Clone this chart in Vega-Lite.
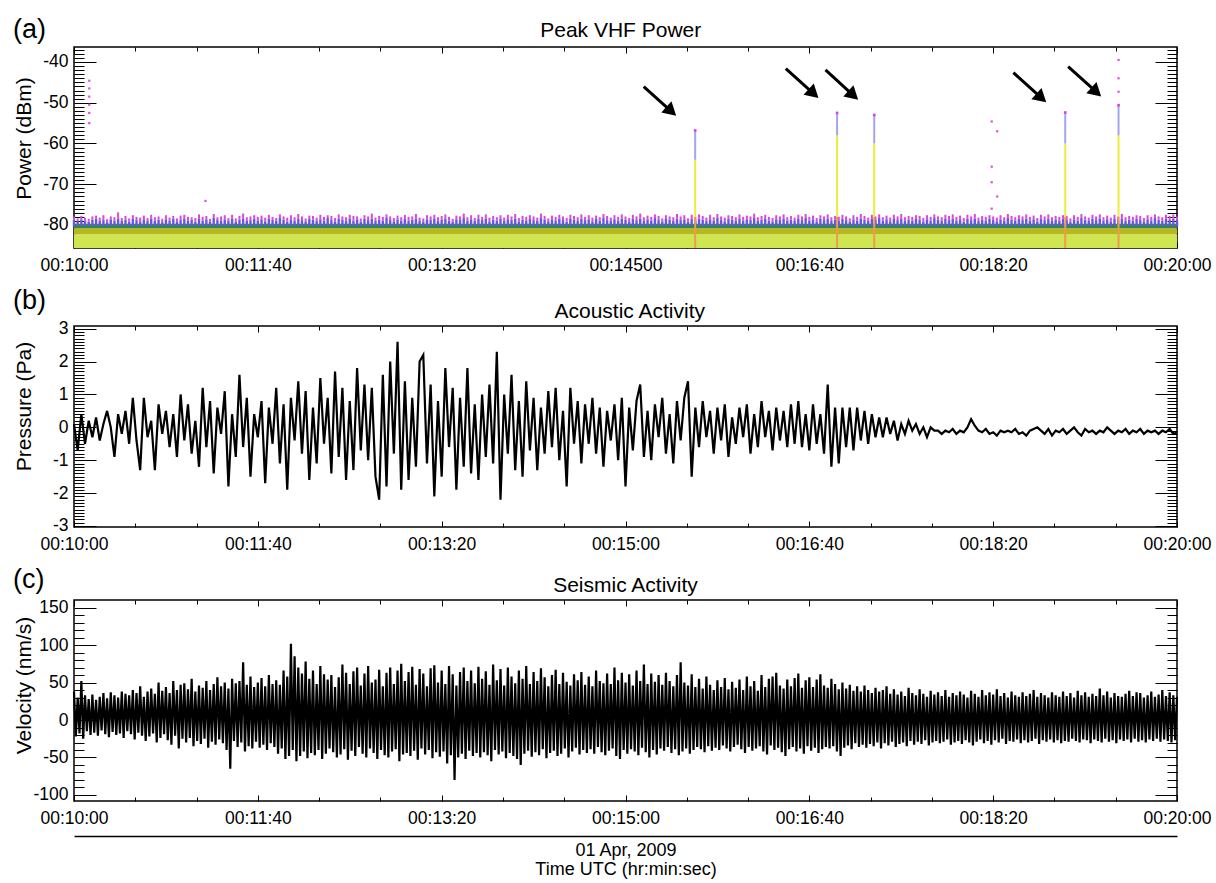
{
"$schema": "https://vega.github.io/schema/vega-lite/v6.json",
"background": "white",
"padding": {"left": 12, "top": 15, "right": 2, "bottom": 2},
"spacing": 9,
"config": {
 "view": {"stroke": "black", "strokeWidth": 1.5},
 "font": "Liberation Sans",
 "text": {"font": "Liberation Sans", "color": "black"},
 "axis": {"labelFont": "Liberation Sans", "labelFontSize": 17.5, "labelColor": "black", "titleFont": "Liberation Sans", "titleFontSize": 21, "titleFontWeight": "normal", "titleColor": "black", "tickColor": "black", "tickWidth": 1, "domain": false, "grid": false, "labelFlush": false, "labelOverlap": false, "labelBound": false}
},
"datasets": {
 "bands": [{"level":"floor","lo":-85.65,"hi":-82.3},{"level":"mid","lo":-82.3,"hi":-80.8},{"level":"green","lo":-80.8,"hi":-79.7}],
 "spikes": [{"t":337.9,"top":-56.8,"mid":-64},{"t":415.1,"top":-52.5,"mid":-58},{"t":435.3,"top":-53,"mid":-60},{"t":539.2,"top":-52.4,"mid":-60},{"t":568.2,"top":-50.6,"mid":-58}],
 "dots": [{"t":8.3,"v":-44.6},{"t":8.3,"v":-46.5},{"t":8.3,"v":-48.5},{"t":8.3,"v":-50.5},{"t":8.3,"v":-52.5},{"t":8.3,"v":-55},{"t":71.5,"v":-74.1},{"t":568.2,"v":-39.5},{"t":568.2,"v":-44},{"t":568.2,"v":-47.3},{"t":499.2,"v":-54.6},{"t":502.2,"v":-57},{"t":499.2,"v":-65.7},{"t":499.2,"v":-69.5},{"t":502.2,"v":-73},{"t":499.2,"v":-76}],
 "arrows": [{"t":309.9,"v":-46.06,"t2":324.9,"v2":-52.1},{"t":387.2,"v":-41.64,"t2":402.3,"v2":-47.75},{"t":408.8,"v":-41.96,"t2":423.9,"v2":-48.17},{"t":511.0,"v":-42.63,"t2":526.2,"v2":-48.83},{"t":540.8,"v":-41.15,"t2":556.1,"v2":-47.36}],
 "vhf": [
{"t":0,"b":-78.8,"m":-78.0},{"t":2,"b":-79.1,"m":-78.4},{"t":4,"b":-78.6,"m":-77.8},{"t":6,"b":-78.9,"m":-78.3},{"t":8,"b":-79.2,"m":-78.5},{"t":10,"b":-78.7,"m":-77.9},{"t":12,"b":-78.5,"m":-77.7},{"t":14,"b":-79.0,"m":-78.2},{"t":16,"b":-78.8,"m":-77.6},{"t":18,"b":-79.3,"m":-78.6},
{"t":20,"b":-78.6,"m":-77.9},{"t":22,"b":-78.9,"m":-78.1},{"t":24,"b":-78.4,"m":-76.9},{"t":26,"b":-79.0,"m":-78.3},{"t":28,"b":-78.7,"m":-77.8},{"t":30,"b":-79.2,"m":-78.4},{"t":32,"b":-78.5,"m":-77.6},{"t":34,"b":-78.8,"m":-78.0},{"t":36,"b":-79.1,"m":-78.2},{"t":38,"b":-78.6,"m":-77.7},
{"t":40,"b":-78.9,"m":-78.3},{"t":42,"b":-78.4,"m":-77.5},{"t":44,"b":-79.0,"m":-78.1},{"t":46,"b":-78.7,"m":-77.9},{"t":48,"b":-79.3,"m":-78.5},{"t":50,"b":-78.6,"m":-77.6},{"t":52,"b":-78.9,"m":-78.2},{"t":54,"b":-78.5,"m":-77.8},{"t":56,"b":-79.1,"m":-78.4},{"t":58,"b":-78.8,"m":-77.7},
{"t":60,"b":-78.4,"m":-77.5},{"t":62,"b":-79.0,"m":-78.0},{"t":64,"b":-78.7,"m":-78.1},{"t":66,"b":-79.2,"m":-78.3},{"t":68,"b":-78.5,"m":-77.4},{"t":70,"b":-78.9,"m":-78.0},{"t":72,"b":-78.6,"m":-77.8},{"t":74,"b":-79.1,"m":-78.5},{"t":76,"b":-78.3,"m":-77.3},{"t":78,"b":-78.8,"m":-78.1},
{"t":80,"b":-79.0,"m":-77.9},{"t":82,"b":-78.6,"m":-77.6},{"t":84,"b":-78.9,"m":-78.3},{"t":86,"b":-78.4,"m":-77.5},{"t":88,"b":-79.2,"m":-78.4},{"t":90,"b":-78.7,"m":-77.8},{"t":92,"b":-78.5,"m":-77.2},{"t":94,"b":-79.0,"m":-78.1},{"t":96,"b":-78.8,"m":-77.9},{"t":98,"b":-78.4,"m":-77.6},
{"t":100,"b":-78.9,"m":-78.0},{"t":102,"b":-78.6,"m":-77.7},{"t":104,"b":-79.1,"m":-78.2},{"t":106,"b":-78.5,"m":-77.5},{"t":108,"b":-78.8,"m":-78.0},{"t":110,"b":-79.0,"m":-78.3},{"t":112,"b":-78.3,"m":-77.4},{"t":114,"b":-78.7,"m":-77.9},{"t":116,"b":-79.2,"m":-78.2},{"t":118,"b":-78.6,"m":-77.6},
{"t":120,"b":-78.9,"m":-78.1},{"t":122,"b":-78.4,"m":-77.3},{"t":124,"b":-78.8,"m":-77.9},{"t":126,"b":-79.1,"m":-78.4},{"t":128,"b":-78.5,"m":-77.7},{"t":130,"b":-78.7,"m":-77.8},{"t":132,"b":-79.0,"m":-78.2},{"t":134,"b":-78.6,"m":-77.5},{"t":136,"b":-78.9,"m":-78.0},{"t":138,"b":-78.3,"m":-77.6},
{"t":140,"b":-78.8,"m":-77.8},{"t":142,"b":-79.1,"m":-78.3},{"t":144,"b":-78.5,"m":-77.4},{"t":146,"b":-78.7,"m":-77.9},{"t":148,"b":-79.0,"m":-78.1},{"t":150,"b":-78.4,"m":-77.5},{"t":152,"b":-78.9,"m":-77.8},{"t":154,"b":-78.6,"m":-77.9},{"t":156,"b":-79.2,"m":-78.4},{"t":158,"b":-78.5,"m":-77.6},
{"t":160,"b":-78.8,"m":-77.9},{"t":162,"b":-78.4,"m":-77.2},{"t":164,"b":-79.0,"m":-78.2},{"t":166,"b":-78.7,"m":-77.8},{"t":168,"b":-78.9,"m":-78.0},{"t":170,"b":-78.3,"m":-77.4},{"t":172,"b":-78.8,"m":-77.9},{"t":174,"b":-79.1,"m":-78.3},{"t":176,"b":-78.6,"m":-77.7},{"t":178,"b":-78.9,"m":-78.1},
{"t":180,"b":-78.5,"m":-77.5},{"t":182,"b":-79.0,"m":-78.0},{"t":184,"b":-78.7,"m":-77.9},{"t":186,"b":-78.4,"m":-77.3},{"t":188,"b":-78.9,"m":-78.2},{"t":190,"b":-79.1,"m":-78.4},{"t":192,"b":-78.6,"m":-77.6},{"t":194,"b":-78.8,"m":-77.9},{"t":196,"b":-78.4,"m":-77.5},{"t":198,"b":-79.0,"m":-78.1},
{"t":200,"b":-78.7,"m":-77.8},{"t":202,"b":-78.5,"m":-77.4},{"t":204,"b":-78.9,"m":-78.0},{"t":206,"b":-79.2,"m":-78.5},{"t":208,"b":-78.6,"m":-77.7},{"t":210,"b":-78.8,"m":-77.9},{"t":212,"b":-78.3,"m":-77.2},{"t":214,"b":-78.9,"m":-78.1},{"t":216,"b":-78.6,"m":-77.6},{"t":218,"b":-79.0,"m":-78.3},
{"t":220,"b":-78.5,"m":-77.5},{"t":222,"b":-78.8,"m":-78.0},{"t":224,"b":-78.4,"m":-77.4},{"t":226,"b":-79.1,"m":-78.2},{"t":228,"b":-78.7,"m":-77.8},{"t":230,"b":-78.9,"m":-78.1},{"t":232,"b":-78.5,"m":-77.6},{"t":234,"b":-79.0,"m":-78.2},{"t":236,"b":-78.6,"m":-77.5},{"t":238,"b":-78.8,"m":-77.9},
{"t":240,"b":-78.4,"m":-77.3},{"t":242,"b":-79.1,"m":-78.3},{"t":244,"b":-78.7,"m":-77.8},{"t":246,"b":-78.9,"m":-78.0},{"t":248,"b":-78.5,"m":-77.6},{"t":250,"b":-78.8,"m":-77.9},{"t":252,"b":-79.0,"m":-78.2},{"t":254,"b":-78.3,"m":-77.2},{"t":256,"b":-78.7,"m":-77.8},{"t":258,"b":-79.1,"m":-78.4},
{"t":260,"b":-78.6,"m":-77.7},{"t":262,"b":-78.9,"m":-78.0},{"t":264,"b":-78.4,"m":-77.5},{"t":266,"b":-78.8,"m":-77.9},{"t":268,"b":-79.2,"m":-78.3},{"t":270,"b":-78.5,"m":-77.5},{"t":272,"b":-78.7,"m":-77.8},{"t":274,"b":-79.0,"m":-78.1},{"t":276,"b":-78.4,"m":-77.4},{"t":278,"b":-78.8,"m":-78.0},
{"t":280,"b":-78.6,"m":-77.6},{"t":282,"b":-79.1,"m":-78.2},{"t":284,"b":-78.5,"m":-77.7},{"t":286,"b":-78.9,"m":-78.1},{"t":288,"b":-78.3,"m":-77.3},{"t":290,"b":-78.8,"m":-77.8},{"t":292,"b":-79.0,"m":-78.2},{"t":294,"b":-78.6,"m":-77.6},{"t":296,"b":-78.9,"m":-78.0},{"t":298,"b":-78.4,"m":-77.4},
{"t":300,"b":-78.7,"m":-77.9},{"t":302,"b":-79.1,"m":-78.3},{"t":304,"b":-78.5,"m":-77.5},{"t":306,"b":-78.8,"m":-77.9},{"t":308,"b":-78.4,"m":-77.2},{"t":310,"b":-79.0,"m":-78.1},{"t":312,"b":-78.6,"m":-77.7},{"t":314,"b":-78.9,"m":-78.0},{"t":316,"b":-78.3,"m":-77.4},{"t":318,"b":-78.8,"m":-77.8},
{"t":320,"b":-79.1,"m":-78.4},{"t":322,"b":-78.5,"m":-77.6},{"t":324,"b":-78.7,"m":-77.9},{"t":326,"b":-79.0,"m":-78.1},{"t":328,"b":-78.4,"m":-77.3},{"t":330,"b":-78.8,"m":-77.9},{"t":332,"b":-78.6,"m":-77.6},{"t":334,"b":-79.2,"m":-78.4},{"t":336,"b":-78.5,"m":-77.5},{"t":338,"b":-78.9,"m":-78.0},
{"t":340,"b":-78.4,"m":-77.4},{"t":342,"b":-78.7,"m":-77.8},{"t":344,"b":-79.0,"m":-78.2},{"t":346,"b":-78.6,"m":-77.5},{"t":348,"b":-78.9,"m":-78.1},{"t":350,"b":-78.3,"m":-77.3},{"t":352,"b":-78.8,"m":-77.9},{"t":354,"b":-79.1,"m":-78.2},{"t":356,"b":-78.5,"m":-77.6},{"t":358,"b":-78.7,"m":-77.8},
{"t":360,"b":-79.0,"m":-78.1},{"t":362,"b":-78.4,"m":-77.4},{"t":364,"b":-78.9,"m":-78.0},{"t":366,"b":-78.6,"m":-77.7},{"t":368,"b":-78.8,"m":-77.9},{"t":370,"b":-78.3,"m":-77.2},{"t":372,"b":-79.0,"m":-78.1},{"t":374,"b":-78.7,"m":-77.8},{"t":376,"b":-78.5,"m":-77.5},{"t":378,"b":-78.9,"m":-78.0},
{"t":380,"b":-79.1,"m":-78.3},{"t":382,"b":-78.6,"m":-77.6},{"t":384,"b":-78.8,"m":-77.9},{"t":386,"b":-78.4,"m":-77.4},{"t":388,"b":-78.9,"m":-78.1},{"t":390,"b":-78.7,"m":-77.8},{"t":392,"b":-79.0,"m":-78.2},{"t":394,"b":-78.5,"m":-77.5},{"t":396,"b":-78.8,"m":-77.9},{"t":398,"b":-78.3,"m":-77.3},
{"t":400,"b":-78.9,"m":-78.0},{"t":402,"b":-78.6,"m":-77.7},{"t":404,"b":-79.1,"m":-78.3},{"t":406,"b":-78.5,"m":-77.6},{"t":408,"b":-78.8,"m":-77.9},{"t":410,"b":-78.4,"m":-77.4},{"t":412,"b":-79.0,"m":-78.1},{"t":414,"b":-78.7,"m":-77.8},{"t":416,"b":-78.9,"m":-78.0},{"t":418,"b":-78.5,"m":-77.5},
{"t":420,"b":-78.8,"m":-77.9},{"t":422,"b":-79.2,"m":-78.4},{"t":424,"b":-78.6,"m":-77.6},{"t":426,"b":-78.9,"m":-78.0},{"t":428,"b":-78.4,"m":-77.3},{"t":430,"b":-78.7,"m":-77.8},{"t":432,"b":-79.0,"m":-78.2},{"t":434,"b":-78.5,"m":-77.5},{"t":436,"b":-78.8,"m":-77.9},{"t":438,"b":-78.3,"m":-77.4},
{"t":440,"b":-78.9,"m":-78.1},{"t":442,"b":-78.6,"m":-77.7},{"t":444,"b":-79.1,"m":-78.2},{"t":446,"b":-78.5,"m":-77.5},{"t":448,"b":-78.8,"m":-77.9},{"t":450,"b":-78.4,"m":-77.3},{"t":452,"b":-79.0,"m":-78.1},{"t":454,"b":-78.7,"m":-77.8},{"t":456,"b":-78.9,"m":-78.0},{"t":458,"b":-78.5,"m":-77.6},
{"t":460,"b":-78.8,"m":-77.8},{"t":462,"b":-79.1,"m":-78.3},{"t":464,"b":-78.6,"m":-77.6},{"t":466,"b":-78.9,"m":-78.0},{"t":468,"b":-78.3,"m":-77.4},{"t":470,"b":-78.7,"m":-77.9},{"t":472,"b":-79.0,"m":-78.1},{"t":474,"b":-78.5,"m":-77.5},{"t":476,"b":-78.8,"m":-77.8},{"t":478,"b":-78.4,"m":-77.4},
{"t":480,"b":-78.9,"m":-78.0},{"t":482,"b":-78.6,"m":-77.7},{"t":484,"b":-79.2,"m":-78.3},{"t":486,"b":-78.5,"m":-77.5},{"t":488,"b":-78.8,"m":-77.9},{"t":490,"b":-78.4,"m":-77.3},{"t":492,"b":-79.0,"m":-78.2},{"t":494,"b":-78.7,"m":-77.8},{"t":496,"b":-78.9,"m":-78.0},{"t":498,"b":-78.5,"m":-77.6},
{"t":500,"b":-78.8,"m":-77.9},{"t":502,"b":-79.1,"m":-78.2},{"t":504,"b":-78.6,"m":-77.6},{"t":506,"b":-78.9,"m":-78.1},{"t":508,"b":-78.3,"m":-77.3},{"t":510,"b":-78.7,"m":-77.8},{"t":512,"b":-79.0,"m":-78.1},{"t":514,"b":-78.5,"m":-77.6},{"t":516,"b":-78.8,"m":-77.9},{"t":518,"b":-78.4,"m":-77.4},
{"t":520,"b":-78.9,"m":-78.0},{"t":522,"b":-78.6,"m":-77.7},{"t":524,"b":-79.1,"m":-78.3},{"t":526,"b":-78.5,"m":-77.5},{"t":528,"b":-78.8,"m":-77.9},{"t":530,"b":-78.4,"m":-77.4},{"t":532,"b":-79.0,"m":-78.1},{"t":534,"b":-78.7,"m":-77.8},{"t":536,"b":-78.9,"m":-78.0},{"t":538,"b":-78.5,"m":-77.6},
{"t":540,"b":-78.8,"m":-77.8},{"t":542,"b":-79.2,"m":-78.4},{"t":544,"b":-78.6,"m":-77.6},{"t":546,"b":-78.9,"m":-78.0},{"t":548,"b":-78.3,"m":-77.3},{"t":550,"b":-78.7,"m":-77.9},{"t":552,"b":-79.0,"m":-78.2},{"t":554,"b":-78.5,"m":-77.5},{"t":556,"b":-78.8,"m":-77.9},{"t":558,"b":-78.4,"m":-77.4},
{"t":560,"b":-78.9,"m":-78.1},{"t":562,"b":-78.6,"m":-77.7},{"t":564,"b":-79.1,"m":-78.2},{"t":566,"b":-78.5,"m":-77.5},{"t":568,"b":-78.8,"m":-77.9},{"t":570,"b":-78.4,"m":-77.3},{"t":572,"b":-79.0,"m":-78.1},{"t":574,"b":-78.7,"m":-77.8},{"t":576,"b":-78.9,"m":-78.0},{"t":578,"b":-78.5,"m":-77.6},
{"t":580,"b":-78.8,"m":-77.8},{"t":582,"b":-79.1,"m":-78.3},{"t":584,"b":-78.6,"m":-77.6},{"t":586,"b":-78.9,"m":-78.0},{"t":588,"b":-78.3,"m":-77.4},{"t":590,"b":-78.7,"m":-77.9},{"t":592,"b":-79.0,"m":-78.1},{"t":594,"b":-78.5,"m":-77.5},{"t":596,"b":-78.8,"m":-77.8},{"t":598,"b":-78.4,"m":-77.4},
{"t":600,"b":-78.9,"m":-78.0}
 ],
 "acou": [
{"t":0,"p":0.1},{"t":2,"p":-0.7},{"t":4,"p":0.4},{"t":6,"p":-0.5},{"t":8,"p":0.2},{"t":10,"p":-0.3},{"t":12,"p":0.3},{"t":14,"p":-0.4},{"t":16,"p":0.1},{"t":18,"p":0.5},
{"t":20,"p":0.0},{"t":22,"p":-0.9},{"t":24,"p":0.4},{"t":26,"p":-0.2},{"t":28,"p":0.5},{"t":30,"p":-0.5},{"t":32,"p":0.9},{"t":34,"p":-0.4},{"t":36,"p":-1.3},{"t":38,"p":0.9},
{"t":40,"p":-0.3},{"t":42,"p":0.2},{"t":44,"p":-1.3},{"t":46,"p":0.7},{"t":48,"p":-0.2},{"t":50,"p":0.5},{"t":52,"p":-0.6},{"t":54,"p":0.4},{"t":56,"p":-0.9},{"t":58,"p":1.0},
{"t":60,"p":-0.4},{"t":62,"p":0.7},{"t":64,"p":-0.8},{"t":66,"p":0.2},{"t":68,"p":-1.2},{"t":70,"p":1.2},{"t":72,"p":-0.6},{"t":74,"p":0.8},{"t":76,"p":-1.4},{"t":78,"p":0.6},
{"t":80,"p":-0.2},{"t":82,"p":1.1},{"t":84,"p":-1.8},{"t":86,"p":0.4},{"t":88,"p":-0.9},{"t":90,"p":1.6},{"t":92,"p":-0.6},{"t":94,"p":0.9},{"t":96,"p":-1.5},{"t":98,"p":0.4},
{"t":100,"p":-0.3},{"t":102,"p":0.8},{"t":104,"p":-1.7},{"t":106,"p":0.6},{"t":108,"p":-0.5},{"t":110,"p":1.2},{"t":112,"p":-1.1},{"t":114,"p":0.7},{"t":116,"p":-1.9},{"t":118,"p":0.9},
{"t":120,"p":-0.4},{"t":122,"p":1.4},{"t":124,"p":-0.8},{"t":126,"p":1.1},{"t":128,"p":-1.6},{"t":130,"p":0.6},{"t":132,"p":-1.1},{"t":134,"p":1.5},{"t":136,"p":-0.5},{"t":138,"p":0.9},
{"t":140,"p":-1.4},{"t":142,"p":1.7},{"t":144,"p":-0.9},{"t":146,"p":1.2},{"t":148,"p":-1.6},{"t":150,"p":0.8},{"t":152,"p":-1.3},{"t":154,"p":1.8},{"t":156,"p":-0.7},{"t":158,"p":1.3},
{"t":160,"p":-1.0},{"t":162,"p":1.2},{"t":164,"p":-1.5},{"t":166,"p":-2.2},{"t":168,"p":1.6},{"t":170,"p":-1.8},{"t":172,"p":2.0},{"t":174,"p":-0.8},{"t":176,"p":2.6},{"t":178,"p":-1.9},
{"t":180,"p":1.4},{"t":182,"p":-1.6},{"t":184,"p":0.9},{"t":186,"p":-1.2},{"t":188,"p":2.0},{"t":190,"p":2.2},{"t":192,"p":-1.1},{"t":194,"p":1.3},{"t":196,"p":-2.1},{"t":198,"p":0.8},
{"t":200,"p":-1.5},{"t":202,"p":1.8},{"t":204,"p":-0.6},{"t":206,"p":1.2},{"t":208,"p":-1.9},{"t":210,"p":0.9},{"t":212,"p":-1.2},{"t":214,"p":1.8},{"t":216,"p":-1.4},{"t":218,"p":0.7},
{"t":220,"p":-1.6},{"t":222,"p":1.0},{"t":224,"p":-0.9},{"t":226,"p":1.3},{"t":228,"p":-1.1},{"t":230,"p":2.3},{"t":232,"p":-2.2},{"t":234,"p":1.0},{"t":236,"p":-0.8},{"t":238,"p":1.6},
{"t":240,"p":-1.3},{"t":242,"p":0.8},{"t":244,"p":-1.5},{"t":246,"p":1.4},{"t":248,"p":-0.7},{"t":250,"p":0.9},{"t":252,"p":-1.3},{"t":254,"p":0.6},{"t":256,"p":-0.8},{"t":258,"p":1.1},
{"t":260,"p":-0.6},{"t":262,"p":1.2},{"t":264,"p":-1.0},{"t":266,"p":0.5},{"t":268,"p":-1.8},{"t":270,"p":1.2},{"t":272,"p":-0.5},{"t":274,"p":0.8},{"t":276,"p":-1.1},{"t":278,"p":0.7},
{"t":280,"p":-0.5},{"t":282,"p":0.9},{"t":284,"p":-0.8},{"t":286,"p":0.6},{"t":288,"p":-1.2},{"t":290,"p":0.5},{"t":292,"p":-0.4},{"t":294,"p":0.7},{"t":296,"p":-1.0},{"t":298,"p":0.9},
{"t":300,"p":-1.8},{"t":302,"p":0.6},{"t":304,"p":-0.7},{"t":306,"p":0.8},{"t":308,"p":1.3},{"t":310,"p":-0.9},{"t":312,"p":0.5},{"t":314,"p":-1.0},{"t":316,"p":0.7},{"t":318,"p":-0.3},
{"t":320,"p":0.9},{"t":322,"p":-0.8},{"t":324,"p":0.4},{"t":326,"p":-1.1},{"t":328,"p":0.8},{"t":330,"p":-0.4},{"t":332,"p":0.9},{"t":334,"p":1.4},{"t":336,"p":-1.5},{"t":338,"p":0.6},
{"t":340,"p":-0.6},{"t":342,"p":0.8},{"t":344,"p":-0.3},{"t":346,"p":0.5},{"t":348,"p":-0.8},{"t":350,"p":0.6},{"t":352,"p":-0.4},{"t":354,"p":0.7},{"t":356,"p":-0.9},{"t":358,"p":0.3},
{"t":360,"p":-0.5},{"t":362,"p":0.6},{"t":364,"p":-0.3},{"t":366,"p":0.7},{"t":368,"p":-0.8},{"t":370,"p":0.4},{"t":372,"p":-0.6},{"t":374,"p":0.8},{"t":376,"p":-0.3},{"t":378,"p":0.5},
{"t":380,"p":-0.7},{"t":382,"p":0.6},{"t":384,"p":-0.4},{"t":386,"p":0.5},{"t":388,"p":-0.6},{"t":390,"p":0.7},{"t":392,"p":-0.5},{"t":394,"p":0.8},{"t":396,"p":-0.6},{"t":398,"p":0.4},
{"t":400,"p":-0.7},{"t":402,"p":0.7},{"t":404,"p":-0.5},{"t":406,"p":0.4},{"t":408,"p":-0.8},{"t":410,"p":1.3},{"t":412,"p":-1.2},{"t":414,"p":0.6},{"t":416,"p":-1.1},{"t":418,"p":0.6},
{"t":420,"p":-0.6},{"t":422,"p":0.6},{"t":424,"p":-0.7},{"t":426,"p":0.6},{"t":428,"p":-0.4},{"t":430,"p":0.5},{"t":432,"p":-0.5},{"t":434,"p":0.4},{"t":436,"p":-0.3},{"t":438,"p":0.3},
{"t":440,"p":-0.3},{"t":442,"p":0.3},{"t":444,"p":-0.2},{"t":446,"p":0.2},{"t":448,"p":-0.4},{"t":450,"p":0.1},{"t":452,"p":-0.2},{"t":454,"p":0.2},{"t":456,"p":-0.1},{"t":458,"p":0.1},
{"t":460,"p":-0.2},{"t":462,"p":0.0},{"t":464,"p":-0.3},{"t":466,"p":0.0},{"t":468,"p":-0.1},{"t":470,"p":-0.1},{"t":472,"p":-0.2},{"t":474,"p":-0.1},{"t":476,"p":-0.15},{"t":478,"p":-0.05},
{"t":480,"p":-0.2},{"t":482,"p":-0.1},{"t":484,"p":-0.15},{"t":486,"p":0.0},{"t":488,"p":0.25},{"t":490,"p":0.05},{"t":492,"p":-0.1},{"t":494,"p":-0.15},{"t":496,"p":-0.05},{"t":498,"p":-0.2},
{"t":500,"p":-0.15},{"t":502,"p":-0.25},{"t":504,"p":-0.1},{"t":506,"p":-0.15},{"t":508,"p":-0.1},{"t":510,"p":-0.15},{"t":512,"p":-0.05},{"t":514,"p":-0.2},{"t":516,"p":-0.15},{"t":518,"p":-0.25},
{"t":520,"p":-0.1},{"t":522,"p":-0.05},{"t":524,"p":0.0},{"t":526,"p":-0.1},{"t":528,"p":-0.2},{"t":530,"p":-0.05},{"t":532,"p":-0.25},{"t":534,"p":-0.1},{"t":536,"p":-0.15},{"t":538,"p":-0.05},
{"t":540,"p":-0.2},{"t":542,"p":-0.1},{"t":544,"p":0.0},{"t":546,"p":-0.15},{"t":548,"p":-0.25},{"t":550,"p":-0.05},{"t":552,"p":-0.15},{"t":554,"p":-0.1},{"t":556,"p":-0.2},{"t":558,"p":-0.1},
{"t":560,"p":-0.15},{"t":562,"p":0.0},{"t":564,"p":-0.1},{"t":566,"p":-0.2},{"t":568,"p":-0.1},{"t":570,"p":-0.15},{"t":572,"p":-0.05},{"t":574,"p":-0.2},{"t":576,"p":-0.1},{"t":578,"p":-0.15},
{"t":580,"p":-0.05},{"t":582,"p":-0.2},{"t":584,"p":-0.1},{"t":586,"p":-0.15},{"t":588,"p":-0.1},{"t":590,"p":-0.2},{"t":592,"p":-0.1},{"t":594,"p":-0.15},{"t":596,"p":-0.05},{"t":598,"p":-0.2},
{"t":600,"p":-0.15}
 ],
 "seis": [
{"t":0,"s":38},{"t":1,"s":-22},{"t":2,"s":30},{"t":3,"s":-18},{"t":4,"s":52},{"t":5,"s":-25},{"t":6,"s":33},{"t":7,"s":-15},{"t":8,"s":28},{"t":9,"s":-20},
{"t":10,"s":34},{"t":11,"s":-17},{"t":12,"s":27},{"t":13,"s":-21},{"t":14,"s":31},{"t":15,"s":-14},{"t":16,"s":36},{"t":17,"s":-19},{"t":18,"s":29},{"t":19,"s":-23},
{"t":20,"s":37},{"t":21,"s":-16},{"t":22,"s":33},{"t":23,"s":-20},{"t":24,"s":30},{"t":25,"s":-18},{"t":26,"s":38},{"t":27,"s":-24},{"t":28,"s":35},{"t":29,"s":-15},
{"t":30,"s":33},{"t":31,"s":-19},{"t":32,"s":40},{"t":33,"s":-26},{"t":34,"s":36},{"t":35,"s":-17},{"t":36,"s":45},{"t":37,"s":-21},{"t":38,"s":31},{"t":39,"s":-28},
{"t":40,"s":38},{"t":41,"s":-22},{"t":42,"s":42},{"t":43,"s":-18},{"t":44,"s":35},{"t":45,"s":-30},{"t":46,"s":50},{"t":47,"s":-24},{"t":48,"s":39},{"t":49,"s":-19},
{"t":50,"s":44},{"t":51,"s":-27},{"t":52,"s":36},{"t":53,"s":-33},{"t":54,"s":52},{"t":55,"s":-21},{"t":56,"s":40},{"t":57,"s":-38},{"t":58,"s":47},{"t":59,"s":-25},
{"t":60,"s":49},{"t":61,"s":-30},{"t":62,"s":41},{"t":63,"s":-24},{"t":64,"s":55},{"t":65,"s":-35},{"t":66,"s":38},{"t":67,"s":-28},{"t":68,"s":46},{"t":69,"s":-32},
{"t":70,"s":43},{"t":71,"s":-25},{"t":72,"s":52},{"t":73,"s":-37},{"t":74,"s":40},{"t":75,"s":-29},{"t":76,"s":48},{"t":77,"s":-33},{"t":78,"s":57},{"t":79,"s":-26},
{"t":80,"s":45},{"t":81,"s":-31},{"t":82,"s":50},{"t":83,"s":-40},{"t":84,"s":42},{"t":85,"s":-65},{"t":86,"s":55},{"t":87,"s":-28},{"t":88,"s":49},{"t":89,"s":-36},
{"t":90,"s":52},{"t":91,"s":-30},{"t":92,"s":77},{"t":93,"s":-42},{"t":94,"s":47},{"t":95,"s":-35},{"t":96,"s":58},{"t":97,"s":-38},{"t":98,"s":44},{"t":99,"s":-29},
{"t":100,"s":50},{"t":101,"s":-37},{"t":102,"s":56},{"t":103,"s":-33},{"t":104,"s":45},{"t":105,"s":-40},{"t":106,"s":60},{"t":107,"s":-31},{"t":108,"s":48},{"t":109,"s":-36},
{"t":110,"s":53},{"t":111,"s":-45},{"t":112,"s":47},{"t":113,"s":-38},{"t":114,"s":66},{"t":115,"s":-52},{"t":116,"s":58},{"t":117,"s":-48},{"t":118,"s":102},{"t":119,"s":-40},
{"t":120,"s":85},{"t":121,"s":-55},{"t":122,"s":70},{"t":123,"s":-48},{"t":124,"s":62},{"t":125,"s":-42},{"t":126,"s":78},{"t":127,"s":-51},{"t":128,"s":55},{"t":129,"s":-44},
{"t":130,"s":66},{"t":131,"s":-47},{"t":132,"s":48},{"t":133,"s":-40},{"t":134,"s":72},{"t":135,"s":-52},{"t":136,"s":61},{"t":137,"s":-45},{"t":138,"s":54},{"t":139,"s":-38},
{"t":140,"s":60},{"t":141,"s":-43},{"t":142,"s":44},{"t":143,"s":-50},{"t":144,"s":57},{"t":145,"s":-46},{"t":146,"s":74},{"t":147,"s":-39},{"t":148,"s":63},{"t":149,"s":-53},
{"t":150,"s":48},{"t":151,"s":-41},{"t":152,"s":65},{"t":153,"s":-48},{"t":154,"s":70},{"t":155,"s":-36},{"t":156,"s":46},{"t":157,"s":-45},{"t":158,"s":62},{"t":159,"s":-50},
{"t":160,"s":72},{"t":161,"s":-38},{"t":162,"s":50},{"t":163,"s":-44},{"t":164,"s":54},{"t":165,"s":-52},{"t":166,"s":67},{"t":167,"s":-40},{"t":168,"s":45},{"t":169,"s":-47},
{"t":170,"s":63},{"t":171,"s":-50},{"t":172,"s":70},{"t":173,"s":-42},{"t":174,"s":48},{"t":175,"s":-39},{"t":176,"s":66},{"t":177,"s":-55},{"t":178,"s":75},{"t":179,"s":-46},
{"t":180,"s":52},{"t":181,"s":-44},{"t":182,"s":64},{"t":183,"s":-48},{"t":184,"s":71},{"t":185,"s":-41},{"t":186,"s":47},{"t":187,"s":-53},{"t":188,"s":68},{"t":189,"s":-38},
{"t":190,"s":62},{"t":191,"s":-46},{"t":192,"s":45},{"t":193,"s":-40},{"t":194,"s":69},{"t":195,"s":-51},{"t":196,"s":73},{"t":197,"s":-43},{"t":198,"s":50},{"t":199,"s":-49},
{"t":200,"s":66},{"t":201,"s":-42},{"t":202,"s":48},{"t":203,"s":-58},{"t":204,"s":72},{"t":205,"s":-47},{"t":206,"s":61},{"t":207,"s":-80},{"t":208,"s":46},{"t":209,"s":-50},
{"t":210,"s":64},{"t":211,"s":-45},{"t":212,"s":70},{"t":213,"s":-52},{"t":214,"s":52},{"t":215,"s":-41},{"t":216,"s":66},{"t":217,"s":-48},{"t":218,"s":49},{"t":219,"s":-44},
{"t":220,"s":71},{"t":221,"s":-50},{"t":222,"s":55},{"t":223,"s":-43},{"t":224,"s":65},{"t":225,"s":-47},{"t":226,"s":47},{"t":227,"s":-55},{"t":228,"s":74},{"t":229,"s":-40},
{"t":230,"s":53},{"t":231,"s":-46},{"t":232,"s":68},{"t":233,"s":-42},{"t":234,"s":46},{"t":235,"s":-51},{"t":236,"s":70},{"t":237,"s":-44},{"t":238,"s":58},{"t":239,"s":-48},
{"t":240,"s":49},{"t":241,"s":-52},{"t":242,"s":66},{"t":243,"s":-60},{"t":244,"s":55},{"t":245,"s":-45},{"t":246,"s":72},{"t":247,"s":-41},{"t":248,"s":48},{"t":249,"s":-49},
{"t":250,"s":64},{"t":251,"s":-43},{"t":252,"s":52},{"t":253,"s":-47},{"t":254,"s":69},{"t":255,"s":-39},{"t":256,"s":57},{"t":257,"s":-51},{"t":258,"s":45},{"t":259,"s":-44},
{"t":260,"s":60},{"t":261,"s":-41},{"t":262,"s":67},{"t":263,"s":-48},{"t":264,"s":48},{"t":265,"s":-45},{"t":266,"s":63},{"t":267,"s":-38},{"t":268,"s":51},{"t":269,"s":-50},
{"t":270,"s":46},{"t":271,"s":-42},{"t":272,"s":61},{"t":273,"s":-37},{"t":274,"s":53},{"t":275,"s":-46},{"t":276,"s":64},{"t":277,"s":-40},{"t":278,"s":47},{"t":279,"s":-44},
{"t":280,"s":58},{"t":281,"s":-39},{"t":282,"s":45},{"t":283,"s":-45},{"t":284,"s":66},{"t":285,"s":-36},{"t":286,"s":52},{"t":287,"s":-43},{"t":288,"s":49},{"t":289,"s":-47},
{"t":290,"s":62},{"t":291,"s":-41},{"t":292,"s":48},{"t":293,"s":-38},{"t":294,"s":70},{"t":295,"s":-48},{"t":296,"s":53},{"t":297,"s":-52},{"t":298,"s":63},{"t":299,"s":-40},
{"t":300,"s":50},{"t":301,"s":-45},{"t":302,"s":61},{"t":303,"s":-39},{"t":304,"s":46},{"t":305,"s":-42},{"t":306,"s":66},{"t":307,"s":-47},{"t":308,"s":52},{"t":309,"s":-37},
{"t":310,"s":74},{"t":311,"s":-43},{"t":312,"s":48},{"t":313,"s":-50},{"t":314,"s":62},{"t":315,"s":-40},{"t":316,"s":51},{"t":317,"s":-46},{"t":318,"s":60},{"t":319,"s":-38},
{"t":320,"s":47},{"t":321,"s":-41},{"t":322,"s":63},{"t":323,"s":-36},{"t":324,"s":52},{"t":325,"s":-44},{"t":326,"s":45},{"t":327,"s":-39},{"t":328,"s":60},{"t":329,"s":-47},
{"t":330,"s":77},{"t":331,"s":-42},{"t":332,"s":50},{"t":333,"s":-38},{"t":334,"s":46},{"t":335,"s":-45},{"t":336,"s":61},{"t":337,"s":-40},{"t":338,"s":44},{"t":339,"s":-36},
{"t":340,"s":55},{"t":341,"s":-39},{"t":342,"s":42},{"t":343,"s":-43},{"t":344,"s":58},{"t":345,"s":-35},{"t":346,"s":47},{"t":347,"s":-41},{"t":348,"s":40},{"t":349,"s":-37},
{"t":350,"s":53},{"t":351,"s":-40},{"t":352,"s":44},{"t":353,"s":-34},{"t":354,"s":56},{"t":355,"s":-38},{"t":356,"s":41},{"t":357,"s":-42},{"t":358,"s":51},{"t":359,"s":-36},
{"t":360,"s":43},{"t":361,"s":-33},{"t":362,"s":54},{"t":363,"s":-39},{"t":364,"s":40},{"t":365,"s":-44},{"t":366,"s":58},{"t":367,"s":-36},{"t":368,"s":45},{"t":369,"s":-41},
{"t":370,"s":52},{"t":371,"s":-38},{"t":372,"s":39},{"t":373,"s":-35},{"t":374,"s":60},{"t":375,"s":-42},{"t":376,"s":44},{"t":377,"s":-46},{"t":378,"s":55},{"t":379,"s":-34},
{"t":380,"s":58},{"t":381,"s":-40},{"t":382,"s":63},{"t":383,"s":-37},{"t":384,"s":46},{"t":385,"s":-43},{"t":386,"s":42},{"t":387,"s":-48},{"t":388,"s":54},{"t":389,"s":-39},
{"t":390,"s":45},{"t":391,"s":-36},{"t":392,"s":56},{"t":393,"s":-42},{"t":394,"s":62},{"t":395,"s":-38},{"t":396,"s":43},{"t":397,"s":-45},{"t":398,"s":53},{"t":399,"s":-35},
{"t":400,"s":57},{"t":401,"s":-41},{"t":402,"s":44},{"t":403,"s":-37},{"t":404,"s":54},{"t":405,"s":-44},{"t":406,"s":61},{"t":407,"s":-39},{"t":408,"s":46},{"t":409,"s":-36},
{"t":410,"s":43},{"t":411,"s":-38},{"t":412,"s":55},{"t":413,"s":-35},{"t":414,"s":48},{"t":415,"s":-42},{"t":416,"s":41},{"t":417,"s":-48},{"t":418,"s":50},{"t":419,"s":-37},
{"t":420,"s":42},{"t":421,"s":-34},{"t":422,"s":47},{"t":423,"s":-39},{"t":424,"s":39},{"t":425,"s":-31},{"t":426,"s":45},{"t":427,"s":-36},{"t":428,"s":38},{"t":429,"s":-33},
{"t":430,"s":46},{"t":431,"s":-37},{"t":432,"s":40},{"t":433,"s":-32},{"t":434,"s":36},{"t":435,"s":-35},{"t":436,"s":43},{"t":437,"s":-30},{"t":438,"s":38},{"t":439,"s":-38},
{"t":440,"s":40},{"t":441,"s":-31},{"t":442,"s":45},{"t":443,"s":-34},{"t":444,"s":35},{"t":445,"s":-29},{"t":446,"s":41},{"t":447,"s":-36},{"t":448,"s":34},{"t":449,"s":-32},
{"t":450,"s":38},{"t":451,"s":-30},{"t":452,"s":32},{"t":453,"s":-35},{"t":454,"s":43},{"t":455,"s":-28},{"t":456,"s":36},{"t":457,"s":-33},{"t":458,"s":33},{"t":459,"s":-29},
{"t":460,"s":41},{"t":461,"s":-32},{"t":462,"s":35},{"t":463,"s":-27},{"t":464,"s":31},{"t":465,"s":-34},{"t":466,"s":39},{"t":467,"s":-30},{"t":468,"s":34},{"t":469,"s":-28},
{"t":470,"s":37},{"t":471,"s":-31},{"t":472,"s":32},{"t":473,"s":-29},{"t":474,"s":40},{"t":475,"s":-26},{"t":476,"s":31},{"t":477,"s":-33},{"t":478,"s":36},{"t":479,"s":-30},
{"t":480,"s":33},{"t":481,"s":-28},{"t":482,"s":38},{"t":483,"s":-32},{"t":484,"s":34},{"t":485,"s":-27},{"t":486,"s":30},{"t":487,"s":-30},{"t":488,"s":39},{"t":489,"s":-34},
{"t":490,"s":35},{"t":491,"s":-29},{"t":492,"s":31},{"t":493,"s":-26},{"t":494,"s":40},{"t":495,"s":-31},{"t":496,"s":33},{"t":497,"s":-28},{"t":498,"s":37},{"t":499,"s":-33},
{"t":500,"s":34},{"t":501,"s":-27},{"t":502,"s":41},{"t":503,"s":-30},{"t":504,"s":32},{"t":505,"s":-25},{"t":506,"s":36},{"t":507,"s":-32},{"t":508,"s":30},{"t":509,"s":-28},
{"t":510,"s":38},{"t":511,"s":-29},{"t":512,"s":33},{"t":513,"s":-26},{"t":514,"s":31},{"t":515,"s":-31},{"t":516,"s":37},{"t":517,"s":-27},{"t":518,"s":32},{"t":519,"s":-30},
{"t":520,"s":35},{"t":521,"s":-28},{"t":522,"s":40},{"t":523,"s":-25},{"t":524,"s":31},{"t":525,"s":-32},{"t":526,"s":36},{"t":527,"s":-27},{"t":528,"s":33},{"t":529,"s":-29},
{"t":530,"s":30},{"t":531,"s":-26},{"t":532,"s":37},{"t":533,"s":-30},{"t":534,"s":33},{"t":535,"s":-27},{"t":536,"s":31},{"t":537,"s":-31},{"t":538,"s":38},{"t":539,"s":-28},
{"t":540,"s":32},{"t":541,"s":-29},{"t":542,"s":36},{"t":543,"s":-25},{"t":544,"s":30},{"t":545,"s":-28},{"t":546,"s":39},{"t":547,"s":-30},{"t":548,"s":33},{"t":549,"s":-26},
{"t":550,"s":37},{"t":551,"s":-27},{"t":552,"s":31},{"t":553,"s":-31},{"t":554,"s":35},{"t":555,"s":-26},{"t":556,"s":32},{"t":557,"s":-28},{"t":558,"s":42},{"t":559,"s":-30},
{"t":560,"s":33},{"t":561,"s":-25},{"t":562,"s":38},{"t":563,"s":-29},{"t":564,"s":30},{"t":565,"s":-27},{"t":566,"s":36},{"t":567,"s":-31},{"t":568,"s":32},{"t":569,"s":-26},
{"t":570,"s":31},{"t":571,"s":-28},{"t":572,"s":35},{"t":573,"s":-26},{"t":574,"s":39},{"t":575,"s":-30},{"t":576,"s":32},{"t":577,"s":-25},{"t":578,"s":37},{"t":579,"s":-29},
{"t":580,"s":36},{"t":581,"s":-27},{"t":582,"s":30},{"t":583,"s":-30},{"t":584,"s":33},{"t":585,"s":-26},{"t":586,"s":38},{"t":587,"s":-28},{"t":588,"s":31},{"t":589,"s":-25},
{"t":590,"s":34},{"t":591,"s":-29},{"t":592,"s":40},{"t":593,"s":-26},{"t":594,"s":32},{"t":595,"s":-28},{"t":596,"s":37},{"t":597,"s":-30},{"t":598,"s":33},{"t":599,"s":-27},
{"t":600,"s":31}
 ]
},
"vconcat": [
 {
  "width": 1103, "height": 201,
  "resolve": {"axis": {"x": "independent", "y": "independent"}},
  "layer": [
   {"data": {"name": "bands"}, "mark": {"type": "rect"},
    "encoding": {
     "x": {"datum": 0, "type": "quantitative", "scale": {"domain": [0, 600], "nice": false, "zero": false}, "axis": null},
     "x2": {"datum": 600},
     "y": {"field": "lo", "type": "quantitative", "scale": {"domain": [-85.65, -36.32], "nice": false, "zero": false}, "axis": null},
     "y2": {"field": "hi"},
     "color": {"field": "level", "type": "nominal", "scale": {"domain": ["floor", "mid", "green"], "range": ["#cfe650", "#b8b81e", "#2e8c34"]}, "legend": null}
    }},
   {"data": {"name": "vhf"}, "mark": {"type": "rule", "strokeWidth": 2.4, "color": "#6458e2"},
    "encoding": {
     "x": {"field": "t", "type": "quantitative", "scale": {"domain": [0, 600], "nice": false, "zero": false},
      "axis": {"orient": "bottom", "values": [0,33.3333,66.6667,100,133.3333,166.6667,200,233.3333,266.6667,300,333.3333,366.6667,400,433.3333,466.6667,500,533.3333,566.6667,600],
       "tickSize": {"condition": {"test": "round(datum.value) % 100 === 0", "value": -6}, "value": -4},
       "labelExpr": "round(datum.value) === 300 ? '00:14500' : (round(datum.value) % 100 === 0 ? '00:' + (10 + floor(round(datum.value) / 60)) + ':' + (round(datum.value) % 60 < 10 ? '0' : '') + (round(datum.value) % 60) : '')",
       "labelPadding": 14, "title": null}},
     "y": {"field": "b", "type": "quantitative", "scale": {"domain": [-85.65, -36.32], "nice": false, "zero": false},
      "axis": {"orient": "left", "values": [-85,-84,-83,-82,-81,-80,-79,-78,-77,-76,-75,-74,-73,-72,-71,-70,-69,-68,-67,-66,-65,-64,-63,-62,-61,-60,-59,-58,-57,-56,-55,-54,-53,-52,-51,-50,-49,-48,-47,-46,-45,-44,-43,-42,-41,-40,-39,-38,-37],
       "tickSize": {"condition": {"test": "datum.value % 10 === 0", "value": -22}, "value": -10},
       "labelExpr": "datum.value % 10 === 0 ? '' + datum.value : ''",
       "labelPadding": 28, "title": "Power (dBm)", "titleX": -50, "titleY": 91, "titleBaseline": "middle"}},
     "y2": {"datum": -80.4}
    }},
   {"data": {"name": "vhf"}, "mark": {"type": "rule", "strokeWidth": 2, "color": "#dc46dc"},
    "encoding": {
     "x": {"field": "t", "type": "quantitative", "scale": {"domain": [0, 600], "nice": false, "zero": false},
      "axis": {"orient": "top", "values": [0,33.3333,66.6667,100,133.3333,166.6667,200,233.3333,266.6667,300,333.3333,366.6667,400,433.3333,466.6667,500,533.3333,566.6667,600],
       "tickSize": {"condition": {"test": "round(datum.value) % 100 === 0", "value": -6}, "value": -4},
       "labels": false, "title": null}},
     "y": {"field": "m", "type": "quantitative", "scale": {"domain": [-85.65, -36.32], "nice": false, "zero": false},
      "axis": {"orient": "right", "values": [-85,-84,-83,-82,-81,-80,-79,-78,-77,-76,-75,-74,-73,-72,-71,-70,-69,-68,-67,-66,-65,-64,-63,-62,-61,-60,-59,-58,-57,-56,-55,-54,-53,-52,-51,-50,-49,-48,-47,-46,-45,-44,-43,-42,-41,-40,-39,-38,-37],
       "tickSize": {"condition": {"test": "datum.value % 10 === 0", "value": -22}, "value": -10},
       "labels": false, "title": null}},
     "y2": {"field": "b"}
    }},
   {"data": {"name": "spikes"}, "mark": {"type": "rule", "strokeWidth": 2, "color": "#f09a50"},
    "encoding": {
     "x": {"field": "t", "type": "quantitative", "scale": {"domain": [0, 600], "nice": false, "zero": false}, "axis": null},
     "y": {"datum": -85.6, "type": "quantitative", "scale": {"domain": [-85.65, -36.32], "nice": false, "zero": false}, "axis": null},
     "y2": {"datum": -78}
    }},
   {"data": {"name": "spikes"}, "mark": {"type": "rule", "strokeWidth": 2, "color": "#ecec3c"},
    "encoding": {
     "x": {"field": "t", "type": "quantitative", "scale": {"domain": [0, 600], "nice": false, "zero": false}, "axis": null},
     "y": {"field": "mid", "type": "quantitative", "scale": {"domain": [-85.65, -36.32], "nice": false, "zero": false}, "axis": null},
     "y2": {"datum": -78}
    }},
   {"data": {"name": "spikes"}, "mark": {"type": "rule", "strokeWidth": 2, "color": "#a4a4ee"},
    "encoding": {
     "x": {"field": "t", "type": "quantitative", "scale": {"domain": [0, 600], "nice": false, "zero": false}, "axis": null},
     "y": {"field": "top", "type": "quantitative", "scale": {"domain": [-85.65, -36.32], "nice": false, "zero": false}, "axis": null},
     "y2": {"field": "mid"}
    }},
   {"data": {"name": "spikes"}, "mark": {"type": "square", "size": 7, "color": "#e040e0", "opacity": 1},
    "encoding": {
     "x": {"field": "t", "type": "quantitative", "scale": {"domain": [0, 600], "nice": false, "zero": false}, "axis": null},
     "y": {"field": "top", "type": "quantitative", "scale": {"domain": [-85.65, -36.32], "nice": false, "zero": false}, "axis": null}
    }},
   {"data": {"name": "dots"}, "mark": {"type": "square", "size": 5, "color": "#e050e0", "opacity": 1},
    "encoding": {
     "x": {"field": "t", "type": "quantitative", "scale": {"domain": [0, 600], "nice": false, "zero": false}, "axis": null},
     "y": {"field": "v", "type": "quantitative", "scale": {"domain": [-85.65, -36.32], "nice": false, "zero": false}, "axis": null}
    }},
   {"data": {"name": "arrows"}, "mark": {"type": "rule", "strokeWidth": 3, "color": "black"},
    "encoding": {
     "x": {"field": "t", "type": "quantitative", "scale": {"domain": [0, 600], "nice": false, "zero": false}, "axis": null},
     "y": {"field": "v", "type": "quantitative", "scale": {"domain": [-85.65, -36.32], "nice": false, "zero": false}, "axis": null},
     "x2": {"field": "t2"}, "y2": {"field": "v2"}
    }},
   {"data": {"name": "arrows"}, "mark": {"type": "point", "shape": "triangle-right", "filled": true, "size": 230, "angle": 42, "color": "black", "opacity": 1},
    "encoding": {
     "x": {"field": "t2", "type": "quantitative", "scale": {"domain": [0, 600], "nice": false, "zero": false}, "axis": null},
     "y": {"field": "v2", "type": "quantitative", "scale": {"domain": [-85.65, -36.32], "nice": false, "zero": false}, "axis": null}
    }},
   {"data": {"values": [{"t": -33.2, "v": -34.19, "txt": "(a)"}]}, "mark": {"type": "text", "align": "left", "baseline": "alphabetic", "fontSize": 27},
    "encoding": {
     "x": {"field": "t", "type": "quantitative", "scale": {"domain": [0, 600], "nice": false, "zero": false}, "axis": null},
     "y": {"field": "v", "type": "quantitative", "scale": {"domain": [-85.65, -36.32], "nice": false, "zero": false}, "axis": null},
     "text": {"field": "txt"}
    }},
   {"data": {"values": [{"t": 297.4, "v": -33.86, "txt": "Peak VHF Power"}]}, "mark": {"type": "text", "align": "center", "baseline": "alphabetic", "fontSize": 21},
    "encoding": {
     "x": {"field": "t", "type": "quantitative", "scale": {"domain": [0, 600], "nice": false, "zero": false}, "axis": null},
     "y": {"field": "v", "type": "quantitative", "scale": {"domain": [-85.65, -36.32], "nice": false, "zero": false}, "axis": null},
     "text": {"field": "txt"}
    }}
  ]
 },
 {
  "width": 1103, "height": 201,
  "resolve": {"axis": {"x": "independent", "y": "independent"}},
  "layer": [
   {"data": {"name": "acou"}, "mark": {"type": "line", "strokeWidth": 2.2, "color": "black"},
    "encoding": {
     "x": {"field": "t", "type": "quantitative", "scale": {"domain": [0, 600], "nice": false, "zero": false},
      "axis": {"orient": "bottom", "values": [0,33.3333,66.6667,100,133.3333,166.6667,200,233.3333,266.6667,300,333.3333,366.6667,400,433.3333,466.6667,500,533.3333,566.6667,600],
       "tickSize": {"condition": {"test": "round(datum.value) % 100 === 0", "value": -6}, "value": -4},
       "labelExpr": "round(datum.value) % 100 === 0 ? '00:' + (10 + floor(round(datum.value) / 60)) + ':' + (round(datum.value) % 60 < 10 ? '0' : '') + (round(datum.value) % 60) : ''",
       "labelPadding": 14, "title": null}},
     "y": {"field": "p", "type": "quantitative", "scale": {"domain": [-3.031, 3.082], "nice": false, "zero": false},
      "axis": {"orient": "left", "values": [-3,-2.9,-2.8,-2.7,-2.6,-2.5,-2.4,-2.3,-2.2,-2.1,-2,-1.9,-1.8,-1.7,-1.6,-1.5,-1.4,-1.3,-1.2,-1.1,-1,-0.9,-0.8,-0.7,-0.6,-0.5,-0.4,-0.3,-0.2,-0.1,0,0.1,0.2,0.3,0.4,0.5,0.6,0.7,0.8,0.9,1,1.1,1.2,1.3,1.4,1.5,1.6,1.7,1.8,1.9,2,2.1,2.2,2.3,2.4,2.5,2.6,2.7,2.8,2.9,3],
       "tickSize": {"condition": {"test": "abs(datum.value - round(datum.value)) < 0.001", "value": -22}, "value": -10},
       "labelExpr": "abs(datum.value - round(datum.value)) < 0.001 ? '' + round(datum.value) : ''",
       "labelPadding": 28, "title": "Pressure (Pa)", "titleX": -50, "titleY": 80, "titleBaseline": "middle"}}
    }},
   {"data": {"values": [{"t": -33.2, "p": 3.59, "txt": "(b)"}]}, "mark": {"type": "text", "align": "left", "baseline": "alphabetic", "fontSize": 27},
    "encoding": {
     "x": {"field": "t", "type": "quantitative", "scale": {"domain": [0, 600], "nice": false, "zero": false},
      "axis": {"orient": "top", "values": [0,33.3333,66.6667,100,133.3333,166.6667,200,233.3333,266.6667,300,333.3333,366.6667,400,433.3333,466.6667,500,533.3333,566.6667,600],
       "tickSize": {"condition": {"test": "round(datum.value) % 100 === 0", "value": -6}, "value": -4},
       "labels": false, "title": null}},
     "y": {"field": "p", "type": "quantitative", "scale": {"domain": [-3.031, 3.082], "nice": false, "zero": false},
      "axis": {"orient": "right", "values": [-3,-2.9,-2.8,-2.7,-2.6,-2.5,-2.4,-2.3,-2.2,-2.1,-2,-1.9,-1.8,-1.7,-1.6,-1.5,-1.4,-1.3,-1.2,-1.1,-1,-0.9,-0.8,-0.7,-0.6,-0.5,-0.4,-0.3,-0.2,-0.1,0,0.1,0.2,0.3,0.4,0.5,0.6,0.7,0.8,0.9,1,1.1,1.2,1.3,1.4,1.5,1.6,1.7,1.8,1.9,2,2.1,2.2,2.3,2.4,2.5,2.6,2.7,2.8,2.9,3],
       "tickSize": {"condition": {"test": "abs(datum.value - round(datum.value)) < 0.001", "value": -22}, "value": -10},
       "labels": false, "title": null}},
     "text": {"field": "txt"}
    }},
   {"data": {"values": [{"t": 302.3, "p": 3.34, "txt": "Acoustic Activity"}]}, "mark": {"type": "text", "align": "center", "baseline": "alphabetic", "fontSize": 21},
    "encoding": {
     "x": {"field": "t", "type": "quantitative", "scale": {"domain": [0, 600], "nice": false, "zero": false}, "axis": null},
     "y": {"field": "p", "type": "quantitative", "scale": {"domain": [-3.031, 3.082], "nice": false, "zero": false}, "axis": null},
     "text": {"field": "txt"}
    }}
  ]
 },
 {
  "width": 1103, "height": 201,
  "resolve": {"axis": {"x": "independent", "y": "independent"}},
  "layer": [
   {"data": {"name": "seis"}, "mark": {"type": "line", "strokeWidth": 2.2, "color": "black"},
    "encoding": {
     "x": {"field": "t", "type": "quantitative", "scale": {"domain": [0, 600], "nice": false, "zero": false},
      "axis": {"orient": "bottom", "values": [0,33.3333,66.6667,100,133.3333,166.6667,200,233.3333,266.6667,300,333.3333,366.6667,400,433.3333,466.6667,500,533.3333,566.6667,600],
       "tickSize": {"condition": {"test": "round(datum.value) % 100 === 0", "value": -6}, "value": -4},
       "labelExpr": "round(datum.value) % 100 === 0 ? '00:' + (10 + floor(round(datum.value) / 60)) + ':' + (round(datum.value) % 60 < 10 ? '0' : '') + (round(datum.value) % 60) : ''",
       "labelPadding": 14, "title": null}},
     "y": {"field": "s", "type": "quantitative", "scale": {"domain": [-108.1, 160.3], "nice": false, "zero": false},
      "axis": {"orient": "left", "values": [-100,-90,-80,-70,-60,-50,-40,-30,-20,-10,0,10,20,30,40,50,60,70,80,90,100,110,120,130,140,150],
       "tickSize": {"condition": {"test": "datum.value % 50 === 0", "value": -22}, "value": -10},
       "labelExpr": "datum.value % 50 === 0 ? '' + datum.value : ''",
       "labelPadding": 28, "title": "Velocity (nm/s)", "titleX": -50, "titleY": 85, "titleBaseline": "middle"}}
    }},
   {"data": {"values": [{"t": -33.2, "s": 175.9, "txt": "(c)"}]}, "mark": {"type": "text", "align": "left", "baseline": "alphabetic", "fontSize": 27},
    "encoding": {
     "x": {"field": "t", "type": "quantitative", "scale": {"domain": [0, 600], "nice": false, "zero": false},
      "axis": {"orient": "top", "values": [0,33.3333,66.6667,100,133.3333,166.6667,200,233.3333,266.6667,300,333.3333,366.6667,400,433.3333,466.6667,500,533.3333,566.6667,600],
       "tickSize": {"condition": {"test": "round(datum.value) % 100 === 0", "value": -6}, "value": -4},
       "labels": false, "title": null}},
     "y": {"field": "s", "type": "quantitative", "scale": {"domain": [-108.1, 160.3], "nice": false, "zero": false},
      "axis": {"orient": "right", "values": [-100,-90,-80,-70,-60,-50,-40,-30,-20,-10,0,10,20,30,40,50,60,70,80,90,100,110,120,130,140,150],
       "tickSize": {"condition": {"test": "datum.value % 50 === 0", "value": -22}, "value": -10},
       "labels": false, "title": null}},
     "text": {"field": "txt"}
    }},
   {"data": {"values": [{"t": 300, "s": 171.6, "txt": "Seismic Activity"}]}, "mark": {"type": "text", "align": "center", "baseline": "alphabetic", "fontSize": 21},
    "encoding": {
     "x": {"field": "t", "type": "quantitative", "scale": {"domain": [0, 600], "nice": false, "zero": false},
      "axis": {"orient": "bottom", "offset": 35, "domain": true, "domainColor": "black", "domainWidth": 1.5, "ticks": false, "labels": false,
       "title": ["01 Apr, 2009", "Time UTC (hr:min:sec)"], "titleFontSize": 18, "titleLineHeight": 19, "titlePadding": 5}},
     "y": {"field": "s", "type": "quantitative", "scale": {"domain": [-108.1, 160.3], "nice": false, "zero": false}, "axis": null},
     "text": {"field": "txt"}
    }}
  ]
 }
]
}
